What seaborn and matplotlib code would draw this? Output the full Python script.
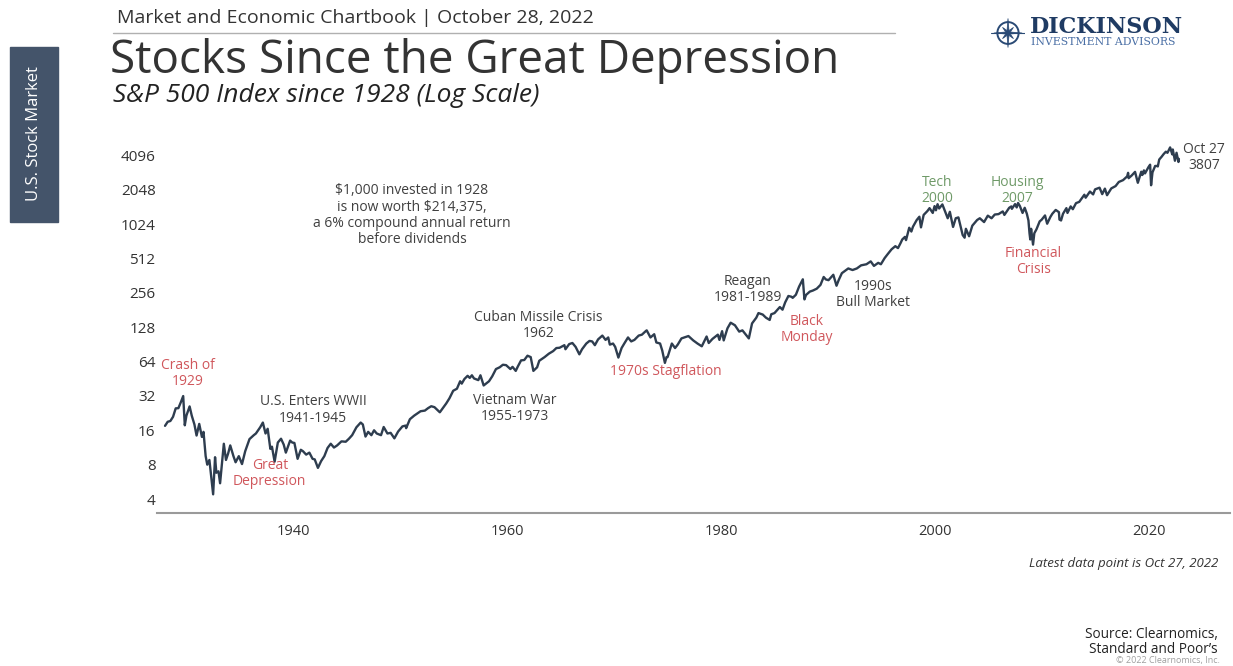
import matplotlib
matplotlib.use("Agg")
import matplotlib.pyplot as plt
from matplotlib.patches import Rectangle, Circle, Polygon
from matplotlib.lines import Line2D
import numpy as np
import pandas as pd
import seaborn as sns

# S&P 500 level (log scale)
years = [
    1928.0, 1928.25, 1928.5, 1928.75, 1929.0, 1929.25, 1929.5, 1929.7, 1929.85, 1930.0, 1930.3, 1930.5, 1930.75,
    1930.95, 1931.2, 1931.45, 1931.6, 1931.8, 1931.95, 1932.15, 1932.3, 1932.5, 1932.68, 1932.8, 1933.0, 1933.15,
    1933.5, 1933.7, 1933.9, 1934.1, 1934.4, 1934.6, 1934.9, 1935.2, 1935.5, 1935.9, 1936.3, 1936.5, 1936.9, 1937.15,
    1937.4, 1937.6, 1937.85, 1938.0, 1938.25, 1938.55, 1938.85, 1939.1, 1939.3, 1939.5, 1939.7, 1939.9,
    1940.1, 1940.4, 1940.7, 1940.9, 1941.2, 1941.5, 1941.8, 1942.0, 1942.3, 1942.6, 1942.9, 1943.2, 1943.5, 1943.8,
    1944.1, 1944.5, 1944.9, 1945.2, 1945.5, 1945.9, 1946.3, 1946.5, 1946.75, 1947.0, 1947.3, 1947.55, 1947.8, 1948.2,
    1948.45, 1948.8, 1949.1, 1949.45, 1949.8,
    1950.2, 1950.5, 1950.55, 1950.9, 1951.3, 1951.6, 1951.9, 1952.3, 1952.6, 1952.9, 1953.2, 1953.7, 1953.95, 1954.3,
    1954.6, 1954.95, 1955.3, 1955.6, 1955.75, 1956.0, 1956.3, 1956.5, 1956.7, 1956.9, 1957.3, 1957.5, 1957.8, 1958.3,
    1958.6, 1958.95, 1959.3, 1959.6, 1959.9,
    1960.3, 1960.5, 1960.8, 1961.0, 1961.3, 1961.6, 1961.9, 1962.2, 1962.45, 1962.8, 1963.0, 1963.5, 1963.9, 1964.3,
    1964.6, 1964.9, 1965.35, 1965.45, 1965.8, 1966.1, 1966.4, 1966.75, 1967.0, 1967.4, 1967.7, 1967.95, 1968.2,
    1968.5, 1968.9, 1969.2, 1969.45, 1969.6, 1969.9,
    1970.1, 1970.4, 1970.7, 1970.95, 1971.3, 1971.6, 1971.9, 1972.3, 1972.6, 1972.95, 1973.05, 1973.4, 1973.75,
    1973.95, 1974.3, 1974.5, 1974.75, 1974.9, 1975.0, 1975.4, 1975.7, 1975.95, 1976.3, 1976.7, 1976.95, 1977.4,
    1977.8, 1978.2, 1978.65, 1978.85, 1979.2, 1979.7, 1979.85,
    1980.1, 1980.25, 1980.6, 1980.9, 1981.3, 1981.7, 1982.0, 1982.6, 1982.9, 1983.3, 1983.5, 1983.9, 1984.2,
    1984.55, 1984.7, 1985.0, 1985.5, 1985.75, 1986.0, 1986.3, 1986.6, 1986.7, 1987.0, 1987.3, 1987.65, 1987.8,
    1987.95, 1988.3, 1988.6, 1988.95, 1989.3, 1989.6, 1989.8,
    1990.05, 1990.5, 1990.8, 1991.0, 1991.3, 1991.9, 1992.3, 1992.7, 1993.1, 1993.6, 1994.0, 1994.3, 1994.7,
    1994.95, 1995.3, 1995.6, 1995.95, 1996.3, 1996.55, 1996.8, 1996.95, 1997.2, 1997.3, 1997.6, 1997.8, 1997.95,
    1998.3, 1998.55, 1998.7, 1998.95, 1999.3, 1999.5, 1999.8, 1999.97,
    2000.1, 2000.25, 2000.4, 2000.7, 2000.95, 2001.2, 2001.4, 2001.7, 2001.95, 2002.2, 2002.5, 2002.6, 2002.78,
    2002.9, 2003.2, 2003.5, 2003.95, 2004.2, 2004.6, 2004.95, 2005.3, 2005.6, 2005.95, 2006.35, 2006.5, 2006.95,
    2007.15, 2007.2, 2007.5, 2007.65, 2007.78, 2007.95, 2008.2, 2008.4, 2008.6, 2008.75, 2008.85, 2008.92, 2009.0,
    2009.18, 2009.3, 2009.5, 2009.8, 2009.98,
    2010.3, 2010.5, 2010.8, 2010.98, 2011.3, 2011.6, 2011.65, 2011.8, 2011.98, 2012.3, 2012.4, 2012.7, 2012.9,
    2013.2, 2013.5, 2013.98, 2014.1, 2014.5, 2014.8, 2014.98, 2015.4, 2015.65, 2015.9, 2016.1, 2016.5, 2016.9,
    2017.2, 2017.6, 2017.98, 2018.07, 2018.12, 2018.4, 2018.72, 2018.98, 2019.3, 2019.4, 2019.55, 2019.65, 2019.98,
    2020.13, 2020.22, 2020.35, 2020.6, 2020.75, 2020.85, 2020.98, 2021.2, 2021.4, 2021.6, 2021.75, 2021.95, 2022.0,
    2022.2, 2022.25, 2022.45, 2022.6, 2022.78, 2022.82,
]
sp500 = [
    17.5, 19.0, 19.3, 21.0, 24.9, 25.0, 28.5, 31.9, 17.7, 21.5, 25.9, 21.5, 18.0,
    14.4, 18.2, 14.0, 15.5, 9.5, 8.0, 8.8, 6.5, 4.4, 9.3, 6.8, 7.0, 5.5,
    12.2, 8.8, 10.0, 11.8, 9.5, 8.4, 9.5, 8.1, 10.5, 13.4, 14.5, 15.0, 17.0, 18.7,
    15.0, 16.5, 11.0, 11.5, 8.5, 12.5, 13.5, 12.0, 10.2, 11.5, 13.0, 12.5,
    12.4, 9.0, 10.8, 10.5, 9.8, 10.2, 9.0, 8.9, 7.5, 8.6, 9.5, 11.2, 12.2, 11.3,
    11.8, 12.8, 12.7, 13.5, 14.5, 17.0, 18.7, 18.0, 14.1, 15.5, 14.5, 16.0, 15.0, 14.5,
    17.1, 15.0, 15.2, 13.6, 15.6,
    17.3, 17.6, 16.7, 20.0, 21.5, 22.5, 23.5, 23.8, 25.0, 26.0, 25.5, 23.0, 24.8, 27.5,
    30.5, 35.5, 37.0, 43.0, 41.0, 45.0, 48.0, 46.0, 48.5, 45.5, 44.0, 48.5, 39.5, 43.0,
    47.5, 55.0, 57.0, 60.0, 59.5,
    55.0, 57.5, 53.0, 58.0, 65.5, 66.0, 72.0, 70.0, 53.0, 57.0, 65.0, 70.0, 75.0, 79.0,
    84.0, 84.5, 89.0, 82.0, 91.0, 93.0, 86.0, 74.0, 82.0, 92.0, 97.0, 96.0, 89.0,
    100.0, 108.0, 99.0, 104.0, 90.0, 92.0,
    86.0, 69.3, 84.0, 92.0, 104.0, 96.0, 99.0, 108.0, 110.0, 118.0, 120.0, 104.0, 111.0,
    94.0, 92.0, 80.0, 62.3, 70.0, 70.0, 92.0, 84.0, 90.0, 102.0, 105.0, 107.0, 98.0,
    92.0, 87.0, 106.0, 93.0, 101.0, 110.0, 99.0,
    118.0, 98.0, 125.0, 140.0, 133.0, 117.0, 120.0, 102.0, 138.0, 155.0, 170.0, 165.0, 155.0,
    148.0, 166.0, 170.0, 192.0, 182.0, 211.0, 240.0, 236.0, 231.0, 246.0, 290.0, 336.0, 224.0,
    245.0, 262.0, 268.0, 278.0, 300.0, 352.0, 335.0,
    330.0, 368.0, 295.0, 330.0, 380.0, 418.0, 405.0, 418.0, 445.0, 455.0, 482.0, 440.0, 468.0,
    455.0, 515.0, 560.0, 615.0, 655.0, 630.0, 700.0, 750.0, 790.0, 740.0, 950.0, 880.0, 970.0,
    1110.0, 1186.0, 957.0, 1230.0, 1330.0, 1410.0, 1280.0, 1469.0,
    1350, 1527, 1400, 1520, 1320, 1150, 1310, 965, 1150, 1170, 900, 820, 777,
    930, 800, 990, 1110, 1150, 1065, 1212, 1150, 1240, 1250, 1320, 1230, 1420,
    1460, 1390, 1530, 1430, 1565, 1470, 1280, 1420, 1260, 1100, 850, 750, 930,
    676, 850, 920, 1080, 1115,
    1217, 1030, 1180, 1258, 1360, 1300, 1120, 1100, 1258, 1410, 1280, 1460, 1380,
    1560, 1600, 1848, 1740, 1970, 1860, 2059, 2130, 1870, 2090, 1830, 2100, 2200,
    2390, 2480, 2674, 2873, 2580, 2720, 2930, 2350, 2940, 2750, 3020, 2840, 3230,
    3386, 2237, 2900, 3300, 3300, 3270, 3756, 3970, 4200, 4400, 4300, 4700, 4796,
    4170, 4600, 3667, 4305, 3577, 3807,
]

y_ticks = [4, 8, 16, 32, 64, 128, 256, 512, 1024, 2048, 4096]
x_ticks = [1940, 1960, 1980, 2000, 2020]

GRAY, RED, GREEN = "#404040", "#d0575c", "#6f9a68"

# (text, year, level, colour)
notes = [
    ("$1,000 invested in 1928\nis now worth $214,375,\na 6% compound annual return\nbefore dividends", 1951.1, 1226, GRAY),
    ("Crash of\n1929", 1930.1, 50.6, RED),
    ("U.S. Enters WWII\n1941-1945", 1941.85, 24.1, GRAY),
    ("Great\nDepression", 1937.8, 6.75, RED),
    ("Vietnam War\n1955-1973", 1960.7, 25.0, GRAY),
    ("Cuban Missile Crisis\n1962", 1962.9, 133, GRAY),
    ("1970s Stagflation", 1974.8, 52.7, RED),
    ("Reagan\n1981-1989", 1982.5, 274, GRAY),
    ("Black\nMonday", 1988.0, 123, RED),
    ("1990s\nBull Market", 1994.2, 249, GRAY),
    ("Tech\n2000", 2000.2, 2020, GREEN),
    ("Housing\n2007", 2007.7, 2020, GREEN),
    ("Financial\nCrisis", 2009.2, 485, RED),
    ("Oct 27\n3807", 2025.2, 3930, GRAY),
]

sns.set_style("white")
plt.rcParams["font.family"] = ["Open Sans", "DejaVu Sans"]

W, H = 1233, 666
fig = plt.figure(figsize=(W / 100, H / 100), dpi=100)


def fx(x):
    return x / W


def fy(y):
    return 1 - y / H


ax = fig.add_axes([fx(157), fy(513), (1230 - 157) / W, (513 - 140) / H])
df = pd.DataFrame({"year": years, "level": sp500})
sns.lineplot(data=df, x="year", y="level", ax=ax, color="#2e3d4f", linewidth=1.7,
             estimator=None, sort=False)
ax.set_yscale("log", base=2)
ax.set_ylim(3.02, 5570)
ax.set_xlim(1927.25, 2027.6)
ax.set_yticks(y_ticks)
ax.set_yticklabels([str(v) for v in y_ticks])
ax.yaxis.set_minor_locator(matplotlib.ticker.NullLocator())
ax.set_xticks(x_ticks)
ax.set_xticklabels([str(v) for v in x_ticks])
ax.set_xlabel("")
ax.set_ylabel("")
ax.tick_params(axis="y", length=0, pad=1, labelsize=11, labelcolor="#333333")
ax.tick_params(axis="x", length=0, pad=8, labelsize=10.5, labelcolor="#333333")
for s in ["top", "right", "left"]:
    ax.spines[s].set_visible(False)
ax.spines["bottom"].set_color("#9a9a9a")
ax.spines["bottom"].set_linewidth(1.5)

for text, yr, lvl, col in notes:
    ax.text(yr, lvl, text, ha="center", va="center", fontsize=10, color=col,
            linespacing=1.1, clip_on=False)

# header
fig.text(fx(117), fy(18), "Market and Economic Chartbook | October 28, 2022",
         fontsize=14, color="#333333", va="center")
fig.add_artist(Line2D([fx(113), fx(895)], [fy(33), fy(33)], color="#b0b0b0", lw=1))
fig.text(fx(110), fy(61), "Stocks Since the Great Depression", fontsize=33,
         color="#333333", va="center")
fig.text(fx(113), fy(96), "S&P 500 Index since 1928 (Log Scale)", fontsize=19,
         style="italic", color="#222222", va="center")

# side tab
fig.add_artist(Rectangle((fx(10), fy(222)), 48 / W, 175 / H, transform=fig.transFigure,
                         color="#44546a", zorder=0))
fig.text(fx(34), fy(134), "U.S. Stock Market", rotation=90, color="white",
         fontsize=12, ha="center", va="center")

# logo
lax = fig.add_axes([fx(991), fy(49), 34 / W, 32 / H])
lax.set_xlim(-1.2, 1.2)
lax.set_ylim(-1.1, 1.1)
lax.axis("off")
lax.add_patch(Circle((0, 0), 0.75, fill=False, ec="#2a4a75", lw=1.4))
ang = np.arange(16) * np.pi / 8
rad = np.where(np.arange(16) % 4 == 0, 1.0, np.where(np.arange(16) % 2 == 0, 0.55, 0.18))
lax.add_patch(Polygon(np.c_[rad * np.cos(ang), rad * np.sin(ang)], closed=True,
                      fc="#2a4a75", ec="#2a4a75", lw=0.5))
lax.plot([-1.2, 1.2], [0, 0], color="#2a4a75", lw=0.8)
fig.text(fx(1030), fy(27), "DICKINSON", fontfamily="DejaVu Serif", fontweight="bold",
         fontsize=16, color="#1f3b63", va="center")
fig.text(fx(1031), fy(42), "INVESTMENT ADVISORS", fontfamily="DejaVu Serif",
         fontsize=7.8, color="#4a6fa5", va="center")

# footer
fig.text(fx(1218), fy(564), "Latest data point is Oct 27, 2022", fontsize=9.5,
         style="italic", color="#333333", ha="right", va="center")
fig.text(fx(1218), fy(642), "Source: Clearnomics,\nStandard and Poor\u2019s", fontsize=9.8,
         color="#222222", ha="right", va="center", multialignment="right", linespacing=1.0)
fig.text(fx(1220), fy(660), "\u00a9 2022 Clearnomics, Inc.", fontsize=6.5, color="#a0a0a0",
         ha="right", va="center")

fig.savefig("out.png", dpi=100)
